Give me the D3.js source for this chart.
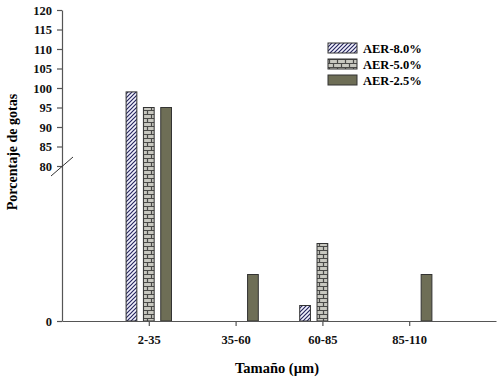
<!DOCTYPE html>
<html>
<head>
<meta charset="utf-8">
<script src="https://cdn.jsdelivr.net/npm/d3@7"></script>
<style>
    body { margin: 0; background: #fff; }
    text { font-family: "Liberation Serif", "Times New Roman", serif; font-weight: bold; }
</style>
</head>
<body>
<div id="chart"></div>
<script>

// data
let categories = ["2-35", "35-60", "60-85", "85-110"]
let seriesNames = ["AER-8.0%", "AER-5.0%", "AER-2.5%"]
let aer80 = [99, 0, 1, 0]
let aer50 = [95, 0, 5, 0]
let aer25 = [95, 3, 0, 3]
let yTicks = [0, 80, 85, 90, 95, 100, 105, 110, 115, 120]

let fills = ["url(#diagonalHatch)", "url(#brick)", "#6e6e56"]

let margin = {top: 10, right: 4, bottom: 56, left: 62};
let width = 500 - margin.left - margin.right;
let height = 377 - margin.top - margin.bottom;

let svg = d3.select("#chart").append("svg")
    .attr("width", 500)
    .attr("height", 377);

// patterns
let defs = svg.append("defs");

let hatch = defs.append("pattern")
    .attr("id", "diagonalHatch")
    .attr("patternUnits", "userSpaceOnUse")
    .attr("width", 4)
    .attr("height", 4);
hatch.append("rect").attr("width", 4).attr("height", 4).attr("fill", "#f4f4ff");
hatch.append("path")
    .attr("d", "M-1,1 l2,-2 M0,4 l4,-4 M3,5 l2,-2")
    .attr("stroke", "#26265e")
    .attr("stroke-width", 1.2);

let brick = defs.append("pattern")
    .attr("id", "brick")
    .attr("patternUnits", "userSpaceOnUse")
    .attr("width", 8)
    .attr("height", 8);
brick.append("rect").attr("width", 8).attr("height", 8).attr("fill", "#c8c8c0");
brick.append("path")
    .attr("d", "M0,0.5 H8 M0,4.5 H8 M1.5,0 V4.5 M5.5,4.5 V8")
    .attr("stroke", "#4a4a48")
    .attr("stroke-width", 1.2);

let g = svg.append("g")
    .attr("transform", `translate(${margin.left}, ${margin.top})`);

// scales
let x = d3.scalePoint()
    .domain(categories)
    .range([0, width])
    .padding(1);

let xSub = d3.scaleBand()
    .domain(seriesNames)
    .range([-22.7, 22.7])
    .paddingInner(0.38);

// broken axis: 0-10 below the break, 80-120 above it
let y = d3.scaleLinear()
    .domain([0, 10, 80, 120])
    .range([height, 156, 156, 0]);

// bars
let series = [aer80, aer50, aer25];
seriesNames.forEach((name, s) => {
    g.append("g")
        .selectAll("rect")
        .data(series[s].map((v, i) => ({cat: categories[i], value: v})).filter(d => d.value > 0))
        .enter().append("rect")
        .attr("x", d => x(d.cat) + xSub(name))
        .attr("y", d => y(d.value))
        .attr("width", xSub.bandwidth())
        .attr("height", d => y(0) - y(d.value))
        .attr("fill", fills[s])
        .attr("stroke", "#333")
        .attr("stroke-width", 1);
});

// axes
let xAxis = g.append("g")
    .attr("transform", `translate(0, ${height})`)
    .call(d3.axisBottom(x).tickSize(5).tickSizeOuter(0).tickPadding(9));

let yAxis = g.append("g")
    .call(d3.axisLeft(y).tickValues(yTicks).tickSize(5).tickSizeOuter(0).tickPadding(5));

[xAxis, yAxis].forEach(a => {
    a.selectAll("path, line").attr("stroke", "#555").attr("stroke-width", 1.2);
    a.selectAll("text")
        .attr("fill", "#111")
        .style("font-size", "12.5px")
        .style("font-family", "'Liberation Serif', serif")
        .style("font-weight", "bold");
});

// break mark
g.append("line")
    .attr("x1", -11).attr("y1", 166)
    .attr("x2", 11).attr("y2", 147)
    .attr("stroke", "#333")
    .attr("stroke-width", 1);

// axis titles
svg.append("text")
    .attr("transform", `translate(17, 152) rotate(-90)`)
    .attr("text-anchor", "middle")
    .style("font-size", "14px")
    .text("Porcentaje de gotas");

svg.append("text")
    .attr("x", 277)
    .attr("y", 373)
    .attr("text-anchor", "middle")
    .style("font-size", "14.5px")
    .text("Tamaño (µm)");

// legend
let legend = svg.append("g")
    .attr("transform", "translate(328, 43)");

seriesNames.forEach((name, s) => {
    let row = legend.append("g").attr("transform", `translate(0, ${s * 16})`);
    row.append("rect")
        .attr("width", 29)
        .attr("height", 10)
        .attr("fill", fills[s])
        .attr("stroke", "#333")
        .attr("stroke-width", 1);
    row.append("text")
        .attr("x", 35)
        .attr("y", 9.5)
        .style("font-size", "12.5px")
        .text(name);
});

</script>
</body>
</html>
